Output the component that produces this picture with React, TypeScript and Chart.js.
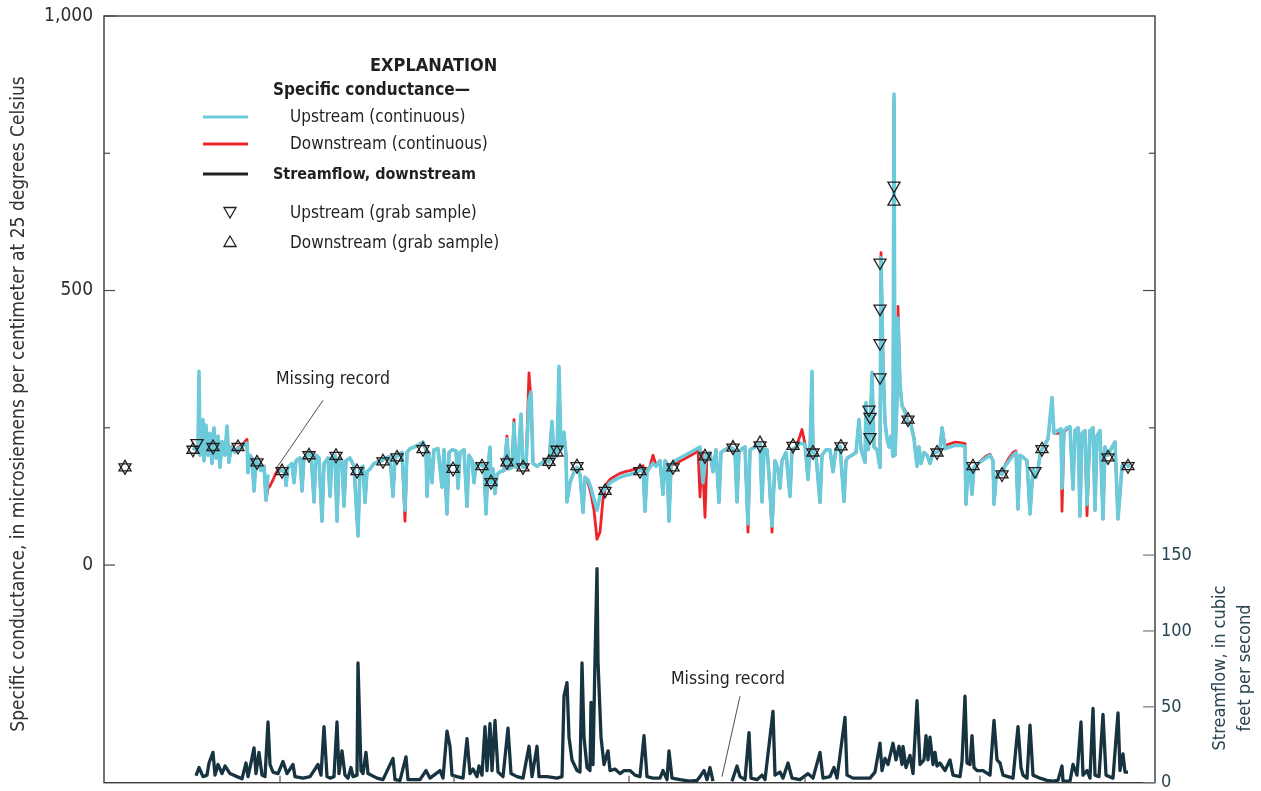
import React, { useEffect, useRef } from "react";
import { Chart, registerables } from "chart.js";

Chart.register(...registerables);

const NARROW =
  '"Liberation Sans Narrow", "DejaVu Sans Condensed", "Roboto Condensed", "Liberation Sans", Arial, sans-serif';

// x = day of the plotted period; y = specific conductance (µS/cm at 25 °C)
const upstreamSC: [number, number | null][] = [
  [75,210],[78,215],[80,205],[81,353],[82,200],[83,230],[85,265],[86,190],[88,255],[90,200],[92,240],[94,185],[96,250],[98,195],[100,235],[102,178],[104,225],[107,200],[109,253],[111,187],[113,215],[117,205],[120,212],[124,215],[127,220],[129,222],[130,168],[132,200],[134,195],[136,135],[138,190],[141,185],[143,172],[146,180],[148,118],[150,165],[152,null],
  [161,172],[164,172],[167,168],[168,145],[170,178],[174,185],[176,150],[178,190],[182,195],[184,135],[186,195],[190,200],[193,205],[196,115],[198,200],[201,195],[204,80],[206,185],[210,195],[212,125],[214,195],[217,200],[219,80],[221,195],[224,190],[226,107],[228,190],[232,195],[236,180],[240,53],[242,175],[245,180],[247,114],[249,170],[252,175],[256,185],[260,188],[264,190],[268,195],[272,198],[275,125],[277,195],[280,200],[284,205],[287,100],[289,205],[292,212],[296,215],[300,218],[305,224],[308,210],[309,125],[311,205],[314,150],[316,210],[320,212],[324,142],[326,210],[329,93],[331,205],[334,210],[338,208],[340,140],[342,205],[346,210],[349,107],[351,200],[354,190],[356,150],[358,185],[362,183],[366,180],[368,93],[370,180],[372,215],[373,150],[375,175],[377,130],[379,165],[382,170],[386,172],[389,230],[391,175],[394,178],[396,258],[398,178],[400,180],[403,275],[405,178],[408,180],[411,300],[413,315],[415,185],[419,180],[423,185],[427,190],[431,188],[434,262],[436,195],[439,205],[441,362],[443,210],[446,242],[448,200],[449,115],[452,150],[456,170],[459,178],[462,165],[465,96],[467,160],[470,155],[473,140],[476,120],[479,100],[482,125],[485,135],[488,140],[492,150],[497,155],[502,160],[507,163],[512,165],[517,168],[522,172],[525,175],[527,98],[529,170],[532,178],[535,185],[538,180],[542,190],[545,129],[547,190],[549,185],[551,80],[553,182],[557,190],[562,195],[567,200],[572,205],[577,210],[582,215],[585,150],[588,200],[592,205],[595,170],[598,210],[601,114],[603,205],[607,210],[612,215],[615,212],[617,205],[619,115],[621,205],[624,212],[627,215],[630,75],[632,210],[637,215],[642,220],[644,115],[646,210],[649,210],[651,165],[654,71],[657,190],[660,175],[662,140],[664,190],[668,205],[672,125],[674,210],[678,215],[682,222],[687,220],[690,156],[692,210],[694,353],[695,205],[698,200],[702,114],[704,200],[708,210],[712,210],[715,170],[718,212],[722,216],[726,116],[728,190],[730,196],[734,200],[738,205],[741,265],[743,211],[747,187],[748,296],[750,210],[752,235],[754,351],[756,215],[759,210],[762,178],[763,560],[765,369],[767,260],[769,230],[771,215],[773,235],[775,198],[776,858],[777,200],[779,300],[780,450],[782,330],[784,290],[787,278],[790,260],[793,255],[796,230],[799,180],[801,215],[803,185],[806,205],[809,200],[812,185],[815,205],[819,205],[822,210],[824,250],[827,212],[832,215],[837,218],[842,218],[847,216],[848,111],[850,180],[852,175],[854,129],[856,178],[860,185],[864,190],[868,195],[872,200],[875,190],[876,111],[878,160],[881,170],[884,165],[887,180],[891,190],[895,200],[898,205],[900,102],[902,200],[906,195],[909,190],[912,93],[915,175],[918,160],[920,175],[922,200],[924,211],[927,220],[930,230],[934,305],[936,240],[940,245],[943,248],[944,140],[946,245],[949,250],[952,252],[955,138],[957,245],[960,250],[962,89],[964,240],[967,245],[969,110],[972,245],[975,250],[977,100],[979,235],[982,245],[985,84],[987,215],[990,200],[994,215],[997,224],[1000,84],[1002,130],[1004,180],[1007,185],[1010,180],[1012,182],
];

const downstreamSC: [number, number | null][] = [
  [75,210],[78,215],[80,205],[81,340],[82,200],[83,230],[85,262],[86,190],[88,252],[90,200],[92,238],[94,185],[96,248],[98,195],[100,233],[102,178],[104,225],[107,200],[109,250],[111,187],[113,215],[117,205],[120,214],[124,218],[127,225],[129,229],[130,168],[132,200],[134,195],[136,135],[138,190],[141,185],[143,172],[146,180],[148,118],[150,140],[152,144],[155,155],[158,168],[161,175],
  [164,172],[167,168],[168,145],[170,178],[174,185],[176,150],[178,190],[182,195],[184,135],[186,195],[190,200],[193,205],[196,115],[198,200],[201,195],[204,80],[206,185],[210,195],[212,125],[214,195],[217,200],[219,80],[221,195],[224,190],[226,107],[228,190],[232,195],[236,180],[240,53],[242,175],[245,180],[247,114],[249,170],[252,175],[256,185],[260,188],[264,190],[268,195],[272,198],[275,125],[277,195],[280,200],[284,205],[287,80],[289,205],[292,212],[296,215],[300,218],[305,224],[308,210],[309,125],[311,205],[314,150],[316,210],[320,212],[324,142],[326,210],[329,93],[331,205],[334,210],[338,208],[340,140],[342,205],[346,210],[349,107],[351,200],[354,190],[356,150],[358,185],[362,183],[366,180],[368,93],[370,180],[372,212],[373,150],[375,175],[377,130],[379,165],[382,170],[386,172],[389,235],[391,175],[394,178],[396,265],[398,178],[400,180],[403,272],[405,178],[408,180],[411,350],[413,300],[415,185],[419,180],[423,185],[427,190],[431,188],[434,258],[436,195],[439,205],[441,340],[443,210],[446,240],[448,200],[449,115],[452,150],[456,170],[459,178],[462,165],[465,96],[467,160],[470,150],[473,130],[476,100],[479,47],[482,60],[485,120],[488,146],[492,156],[497,162],[502,167],[507,170],[512,172],[517,175],[522,178],[525,181],[527,98],[529,172],[532,180],[535,200],[538,182],[542,190],[545,129],[547,190],[549,185],[551,80],[553,182],[557,184],[562,189],[567,194],[572,199],[577,204],[580,212],[582,124],[584,205],[587,87],[589,200],[592,205],[595,170],[598,210],[601,114],[603,205],[607,210],[612,215],[615,212],[617,205],[619,115],[621,205],[624,212],[627,215],[630,60],[632,210],[637,215],[642,220],[644,115],[646,210],[649,210],[651,165],[654,60],[657,190],[660,175],[662,140],[664,190],[668,205],[672,125],[674,210],[678,215],[682,235],[684,247],[687,220],[690,156],[692,210],[694,340],[695,205],[698,200],[702,114],[704,200],[708,210],[712,210],[715,170],[718,212],[722,216],[726,116],[728,190],[730,196],[734,200],[738,205],[741,262],[743,211],[747,187],[748,290],[750,210],[752,235],[754,345],[756,215],[759,210],[762,178],[763,569],[765,369],[767,260],[769,230],[771,215],[773,235],[775,198],[776,850],[777,200],[779,300],[780,471],[782,330],[784,290],[787,282],[790,262],[793,258],[796,232],[799,180],[801,215],[803,185],[806,205],[809,200],[812,185],[815,205],[819,205],[822,212],[824,250],[827,218],[832,221],[837,224],[842,223],[847,221],[848,111],[850,180],[852,175],[854,129],[856,178],[860,185],[864,192],[868,198],[872,202],[875,190],[876,111],[878,160],[881,170],[884,165],[887,182],[891,195],[895,205],[898,208],[900,102],[902,200],[906,195],[909,190],[912,93],[915,175],[918,160],[920,175],[922,200],[924,211],[927,220],[930,230],[934,295],[936,240],[940,240],[943,245],[944,98],[946,242],[949,248],[952,250],[955,138],[957,245],[960,250],[962,89],[964,240],[967,245],[969,90],[972,245],[975,250],[977,100],[979,235],[982,245],[985,84],[987,215],[990,200],[994,215],[997,224],[1000,84],[1002,130],[1004,180],[1007,185],[1010,180],[1012,182],
];

// Streamflow, downstream (cubic feet per second)
const streamflow: [number, number | null][] = [
  [78,4.6],[81,10],[85,4],[89,5],[91,13],[95,20],[97,5],[100,12],[104,6],[107,11],[112,6],[119,4],[124,2.6],[128,13],[130,4],[133,13],[136,23],[138,6],[141,20],[144,5],[147,4],[150,40],[152,12],[155,7],[160,6],[165,14],[169,6],[175,12],[177,4],[185,3],[192,4],[196,8],[200,12],[203,5],[206,37],[209,4],[212,3],[216,4],[219,40],[221,6],[224,21],[227,5],[230,3],[233,10],[235,4],[239,5],[240,79],[243,8],[245,6],[248,20],[250,6],[259,3],[265,2],[275,16],[277,2],[282,1.5],[288,17],[290,2],[302,2],[308,8],[312,3],[322,8],[325,3],[329,34],[332,24],[334,5],[339,4],[345,3],[349,29],[352,6],[355,9],[359,4],[361,11],[364,5],[367,37],[369,8],[372,39],[374,8],[377,41],[380,7],[385,4],[390,36],[393,6],[399,4],[405,3],[411,24],[414,4],[419,24],[421,4],[429,4],[439,3],[444,4],[446,57],[449,66],[451,30],[454,15],[459,8],[462,7],[464,79],[466,30],[469,10],[472,8],[473,53],[475,12],[477,81],[479,141],[480,80],[483,30],[486,12],[490,21],[492,8],[497,9],[502,6],[506,8],[512,8],[517,5],[522,4],[526,31],[529,4],[535,3],[542,3],[545,8],[549,2],[551,21],[554,3],[562,2],[572,1],[579,1.5],[582,4],[586,8],[589,2],[592,10],[595,1],[600,null],
  [614,1],[619,11],[622,4],[627,2],[631,33],[633,3],[639,2],[644,5],[647,2],[655,47],[657,5],[662,7],[665,3],[670,13],[674,3],[682,2],[690,6],[695,3],[702,20],[705,3],[712,4],[716,10],[719,3],[727,43],[729,5],[735,3],[742,3],[752,3],[757,7],[762,26],[764,8],[767,16],[770,12],[775,26],[778,15],[781,24],[784,12],[785,24],[788,10],[792,18],[795,6],[799,54],[800,40],[802,12],[806,15],[808,31],[810,15],[812,30],[815,12],[817,20],[819,11],[822,13],[827,8],[832,15],[835,5],[842,4],[844,14],[847,57],[849,13],[852,12],[854,31],[856,10],[859,8],[865,8],[872,5],[876,41],[879,15],[882,13],[885,5],[895,3],[900,37],[903,10],[905,5],[909,3],[912,38],[915,5],[922,3],[929,1.5],[935,1],[940,1.5],[944,11],[945,1],[952,1],[955,12],[959,5],[963,40],[965,5],[969,8],[972,3],[975,49],[977,5],[981,4],[985,45],[988,5],[995,3],[1000,46],[1002,8],[1005,19],[1007,7],[1010,7],
];

// Grab samples (day, specific conductance)
const upstreamGrab: [number, number][] = [
  [7,178],[75,210],[79,222],[95,215],[120,215],[139,187],[164,171],[191,200],[218,199],[239,171],[265,189],[279,196],[305,211],[335,175],[364,180],[373,151],[389,187],[405,178],[431,188],[439,210],[459,180],[487,135],[522,171],[555,178],[587,198],[615,214],[642,218],[675,217],[695,205],[723,216],[751,283],[752,270],[752,233],[762,551],[762,467],[762,404],[762,342],[776,691],[790,265],[819,205],[855,180],[884,165],[917,171],[924,211],[990,196],[1010,180],
];
const downstreamGrab: [number, number][] = [
  [7,178],[75,210],[95,215],[120,215],[139,187],[164,171],[191,200],[218,199],[239,171],[265,189],[279,196],[305,211],[335,175],[364,180],[373,151],[389,187],[405,178],[431,188],[439,205],[459,180],[487,135],[522,171],[555,178],[587,198],[615,214],[642,222],[675,217],[695,205],[723,216],[776,662],[790,265],[819,205],[855,180],[884,165],[924,211],[990,196],[1010,180],
];

const leftTicks = [0, 500, 1000];
const leftMinorTicks = [250, 750];
const rightTicks = [0, 50, 100, 150];
const xTicks = [162, 336, 511, 687, 862];

const X_MIN = -14;
const X_MAX = 1037;
const SC_MIN = -396.4;
const SC_MAX = 1000;
const Q_MAX = 505.3;

const CYAN = "#6ccbdb";
const RED = "#ee2329";
const FLOW = "#17333f";
const INK = "#231f20";

const toXY = (arr: [number, number | null][]) => arr.map(([x, y]) => ({ x, y }));

const decorPlugin = {
  id: "decor",
  afterDatasetsDraw(chart: any) {
    const { ctx, chartArea: a, scales } = chart;
    const sx = scales.x;
    const sy = scales.y;
    const sq = scales.y2;
    ctx.save();
    // frame
    ctx.strokeStyle = "#3a3a3a";
    ctx.lineWidth = 1.4;
    ctx.strokeRect(a.left, a.top, a.right - a.left, a.bottom - a.top);

    const line = (x1: number, y1: number, x2: number, y2: number) => {
      ctx.beginPath();
      ctx.moveTo(x1, y1);
      ctx.lineTo(x2, y2);
      ctx.stroke();
    };
    ctx.strokeStyle = "#4a4a4a";
    ctx.lineWidth = 1.2;
    leftTicks.forEach((v) => {
      const y = sy.getPixelForValue(v);
      line(a.left, y, a.left + 11, y);
    });
    leftMinorTicks.forEach((v) => {
      const y = sy.getPixelForValue(v);
      line(a.left, y, a.left + 6, y);
      line(a.right, y, a.right - 6, y);
    });
    {
      const y = sy.getPixelForValue(500);
      line(a.right, y, a.right - 12, y);
    }
    ctx.strokeStyle = "#6d7c83";
    rightTicks.forEach((v) => {
      const y = sq.getPixelForValue(v);
      line(a.right, y, a.right - 12, y);
    });
    ctx.strokeStyle = "#555";
    xTicks.forEach((v) => {
      const x = sx.getPixelForValue(v);
      line(x, a.bottom, x, a.bottom - 7);
    });

    // axis titles
    ctx.fillStyle = "#333";
    ctx.font = `19px ${NARROW}`;
    ctx.textAlign = "center";
    ctx.textBaseline = "middle";
    ctx.save();
    ctx.translate(19, 404);
    ctx.rotate(-Math.PI / 2);
    ctx.fillText("Specific conductance, in microsiemens per centimeter at 25 degrees Celsius", 0, 0);
    ctx.restore();
    ctx.fillStyle = "#2b4451";
    ctx.font = `18px ${NARROW}`;
    ctx.save();
    ctx.translate(1220, 668);
    ctx.rotate(-Math.PI / 2);
    ctx.fillText("Streamflow, in cubic", 0, 0);
    ctx.fillText("feet per second", 0, 25);
    ctx.restore();

    // annotations
    ctx.fillStyle = INK;
    ctx.strokeStyle = INK;
    ctx.lineWidth = 0.8;
    ctx.font = `17.5px ${NARROW}`;
    ctx.textAlign = "left";
    ctx.fillText("Missing record", sx.getPixelForValue(158), sy.getPixelForValue(338));
    line(sx.getPixelForValue(205), sy.getPixelForValue(300), sx.getPixelForValue(159), sy.getPixelForValue(178));
    ctx.fillText("Missing record", sx.getPixelForValue(553), sq.getPixelForValue(67.8));
    line(sx.getPixelForValue(622), sq.getPixelForValue(57), sx.getPixelForValue(604), sq.getPixelForValue(4));

    // explanation (legend)
    ctx.font = `bold 18px ${NARROW}`;
    ctx.fillText("EXPLANATION", 370, 66);
    ctx.font = `bold 17px ${NARROW}`;
    ctx.fillText("Specific conductance\u2014", 273, 91);
    ctx.font = `bold 16px ${NARROW}`;
    ctx.fillText("Streamflow, downstream", 273, 175);
    ctx.font = `17px ${NARROW}`;
    ctx.fillText("Upstream (continuous)", 290, 118);
    ctx.fillText("Downstream (continuous)", 290, 145);
    ctx.fillText("Upstream (grab sample)", 290, 214);
    ctx.fillText("Downstream (grab sample)", 290, 244);

    ctx.lineWidth = 3;
    ctx.strokeStyle = CYAN;
    line(203, 117, 248, 117);
    ctx.strokeStyle = RED;
    line(203, 144, 248, 144);
    ctx.strokeStyle = "#222";
    line(203, 174, 248, 174);

    ctx.lineWidth = 1.3;
    ctx.strokeStyle = INK;
    const tri = (cx: number, cy: number, down: boolean) => {
      const r = 7;
      const s = down ? -1 : 1;
      ctx.beginPath();
      ctx.moveTo(cx, cy - s * r);
      ctx.lineTo(cx + r * 0.866, cy + s * r * 0.5);
      ctx.lineTo(cx - r * 0.866, cy + s * r * 0.5);
      ctx.closePath();
      ctx.stroke();
    };
    tri(230, 211, true);
    tri(230, 243, false);
    ctx.restore();
  },
};

export default function App() {
  const ref = useRef<HTMLCanvasElement | null>(null);
  useEffect(() => {
    if (!ref.current) return;
    const markerBase = {
      showLine: false,
      pointStyle: "triangle",
      pointRadius: 7,
      pointHoverRadius: 7,
      pointBorderWidth: 1.3,
      pointBorderColor: INK,
      pointBackgroundColor: "rgba(255,255,255,0)",
      borderColor: INK,
      backgroundColor: "rgba(255,255,255,0)",
      yAxisID: "y",
      order: 0,
    };
    const chart = new Chart(ref.current, {
      type: "line",
      data: {
        datasets: [
          { ...markerBase, label: "Upstream (grab sample)", data: toXY(upstreamGrab), pointRotation: 180 } as any,
          { ...markerBase, label: "Downstream (grab sample)", data: toXY(downstreamGrab), pointRotation: 0 } as any,
          {
            label: "Upstream (continuous)",
            data: toXY(upstreamSC),
            borderColor: CYAN,
            borderWidth: 3.6,
            pointRadius: 0,
            tension: 0,
            spanGaps: false,
            borderJoinStyle: "round",
            yAxisID: "y",
            order: 1,
          },
          {
            label: "Downstream (continuous)",
            data: toXY(downstreamSC),
            borderColor: RED,
            borderWidth: 2.8,
            pointRadius: 0,
            tension: 0,
            spanGaps: false,
            borderJoinStyle: "round",
            yAxisID: "y",
            order: 2,
          },
          {
            label: "Streamflow, downstream",
            data: toXY(streamflow),
            borderColor: FLOW,
            borderWidth: 3.3,
            pointRadius: 0,
            tension: 0,
            spanGaps: false,
            borderJoinStyle: "round",
            yAxisID: "y2",
            order: 3,
          },
        ],
      },
      options: {
        responsive: false,
        animation: false,
        events: [],
        layout: { padding: { top: 16, bottom: 7, left: 0, right: 0 } },
        plugins: { legend: { display: false }, tooltip: { enabled: false } },
        scales: {
          x: { type: "linear", min: X_MIN, max: X_MAX, display: false },
          y: {
            type: "linear",
            position: "left",
            min: SC_MIN,
            max: SC_MAX,
            afterBuildTicks: (s: any) => {
              s.ticks = leftTicks.map((v) => ({ value: v }));
            },
            ticks: {
              callback: (v: any) => Number(v).toLocaleString("en-US"),
              padding: 11,
              font: { family: NARROW, size: 19 },
              color: "#2e2e2e",
            },
            grid: { display: false, drawTicks: false },
            border: { display: false },
            afterFit: (s: any) => {
              s.width = 104;
              s.paddingTop = 0;
              s.paddingBottom = 0;
            },
          },
          y2: {
            type: "linear",
            position: "right",
            min: 0,
            max: Q_MAX,
            afterBuildTicks: (s: any) => {
              s.ticks = rightTicks.map((v) => ({ value: v }));
            },
            ticks: {
              padding: 6,
              font: { family: NARROW, size: 18 },
              color: "#2b4451",
            },
            grid: { display: false, drawTicks: false },
            border: { display: false },
            afterFit: (s: any) => {
              s.width = 106;
              s.paddingTop = 0;
              s.paddingBottom = 0;
            },
          },
        },
      } as any,
      plugins: [decorPlugin],
    });
    return () => chart.destroy();
  }, []);
  return (
    <div style={{ position: "fixed", left: 0, top: 0, width: 1261, height: 791, background: "#fff" }}>
      <canvas ref={ref} width={1261} height={791} style={{ width: 1261, height: 791, display: "block" }} />
    </div>
  );
}
